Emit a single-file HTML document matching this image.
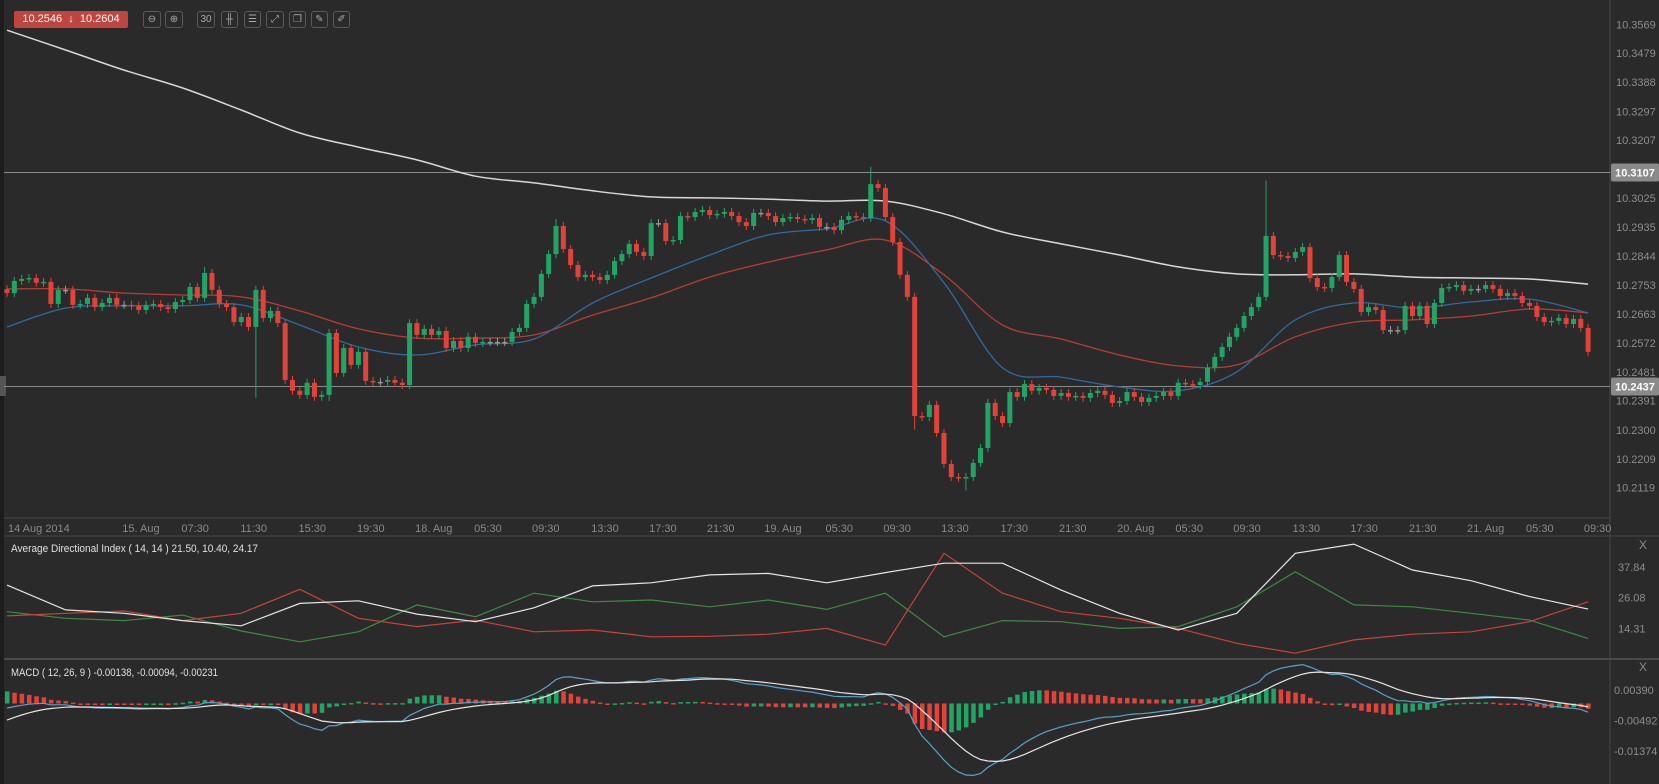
<!DOCTYPE html>
<html><head><meta charset="utf-8"><style>
html,body{margin:0;padding:0;background:#2a2a2a;overflow:hidden}
svg{display:block;font-family:"Liberation Sans",sans-serif}
.tb{position:absolute;top:11px;height:17px;border:1px solid #5a5a5a;border-radius:3px;box-sizing:border-box;color:#aaa;font:10px "Liberation Sans",sans-serif;text-align:center;line-height:15px}
</style></head><body>
<svg id="chart" width="1659" height="784" viewBox="0 0 1659 784" xmlns="http://www.w3.org/2000/svg">
<rect x="0" y="0" width="1659" height="784" fill="#2a2a2a"/>
<rect x="0" y="0" width="4" height="784" fill="#1c1c1c"/>
<rect x="0" y="376" width="6" height="20" fill="#555"/>
<g id="grid"></g>
<g id="main"></g>
<g id="adx"></g>
<g id="macd"></g>
<g id="axes"></g>
</svg>
<div style="position:absolute;left:14px;top:11px;width:114px;height:17px;background:#c0453e;border-radius:2px;color:#fff;font:11px 'Liberation Sans',sans-serif;line-height:17px;text-align:center">10.2546 &nbsp;↓&nbsp; 10.2604</div>
<div class="tb" style="left:143px;width:18px">⊖</div>
<div class="tb" style="left:165px;width:18px">⊕</div>
<div class="tb" style="left:197px;width:18px">30</div>
<div class="tb" style="left:221px;width:17px">╫</div>
<div class="tb" style="left:244px;width:17px">☰</div>
<div class="tb" style="left:266px;width:18px">⤢</div>
<div class="tb" style="left:289px;width:17px">❐</div>
<div class="tb" style="left:311px;width:17px">✎</div>
<div class="tb" style="left:333px;width:17px">✐</div>
<script>
// ---------- data ----------
const closes = [10.2728,10.2766,10.2772,10.2775,10.2760,10.2763,10.2694,10.2738,10.2738,10.2691,
10.2694,10.2713,10.2684,10.2697,10.2713,10.2691,10.2691,10.2688,10.2675,10.2691,
10.2694,10.2684,10.2678,10.2700,10.2706,10.2747,10.2713,10.2791,10.2738,10.2694,
10.2684,10.2637,10.2653,10.2622,10.2738,10.2650,10.2672,10.2634,10.2456,10.2422,
10.2409,10.2447,10.2403,10.2409,10.2603,10.2478,10.2556,10.2503,10.2544,10.2453,
10.2450,10.2450,10.2456,10.2447,10.2440,10.2634,10.2597,10.2616,10.2597,10.2609,
10.2556,10.2578,10.2556,10.2591,10.2572,10.2575,10.2575,10.2575,10.2575,10.2606,
10.2619,10.2694,10.2716,10.2788,10.2850,10.2938,10.2866,10.2816,10.2778,10.2785,
10.2778,10.2769,10.2785,10.2828,10.2850,10.2882,10.2857,10.2844,10.2947,10.2947,
10.2891,10.2894,10.2969,10.2966,10.2982,10.2988,10.2972,10.2976,10.2982,10.2969,
10.2950,10.2938,10.2979,10.2979,10.2969,10.2950,10.2963,10.2966,10.2960,10.2957,
10.2963,10.2935,10.2935,10.2925,10.2957,10.2969,10.2966,10.2963,10.3069,10.3057,
10.2966,10.2888,10.2785,10.2716,10.2343,10.2340,10.2378,10.2290,10.2193,10.2152,
10.2149,10.2152,10.2196,10.2243,10.2384,10.2343,10.2321,10.2418,10.2403,10.2443,
10.2422,10.2431,10.2425,10.2406,10.2415,10.2403,10.2406,10.2400,10.2415,10.2422,
10.2409,10.2384,10.2390,10.2418,10.2403,10.2387,10.2400,10.2406,10.2418,10.2406,
10.2447,10.2443,10.2440,10.2450,10.2494,10.2528,10.2559,10.2591,10.2619,10.2656,
10.2684,10.2716,10.2907,10.2847,10.2844,10.2838,10.2857,10.2872,10.2775,10.2747,
10.2744,10.2778,10.2847,10.2763,10.2741,10.2669,10.2684,10.2675,10.2612,10.2612,
10.2612,10.2688,10.2656,10.2688,10.2631,10.2697,10.2744,10.2747,10.2753,10.2735,
10.2741,10.2741,10.2753,10.2741,10.2719,10.2728,10.2719,10.2697,10.2688,10.2653,
10.2637,10.2641,10.2650,10.2631,10.2647,10.2619,10.2544];
const firstOpen = 10.2740;
const spikeHighs = {118:10.3123, 172:10.3080, 27:10.2810, 75:10.2960};
const spikeLows = {131:10.2110, 124:10.2300, 34:10.2400, 44:10.2390};
// moving averages sampled every 8 candles
const maIndex = [0,8,16,24,32,40,48,56,64,72,80,88,96,104,112,120,128,136,144,152,160,168,176,184,192,200,208,216];
const maWhite = [10.3551,10.3489,10.3426,10.3370,10.3301,10.3229,10.3185,10.3145,10.3094,10.3073,10.3048,10.3029,10.3026,10.3022,10.3016,10.3016,10.2976,10.2919,10.2882,10.2847,10.2810,10.2788,10.2785,10.2788,10.2778,10.2775,10.2772,10.2756];
const maBlue = [10.2622,10.2681,10.2688,10.2688,10.2691,10.2628,10.2559,10.2534,10.2566,10.2584,10.2697,10.2775,10.2847,10.2910,10.2929,10.2954,10.2760,10.2494,10.2465,10.2434,10.2422,10.2481,10.2644,10.2697,10.2681,10.2700,10.2709,10.2666];
const maRed = [10.2741,10.2741,10.2728,10.2722,10.2716,10.2672,10.2616,10.2587,10.2587,10.2597,10.2659,10.2713,10.2778,10.2825,10.2863,10.2894,10.2785,10.2628,10.2584,10.2534,10.2500,10.2503,10.2591,10.2637,10.2644,10.2656,10.2678,10.2666];
// ADX
const adxLine = [30.9,21.4,20.1,17.3,15.3,23.9,24.9,19.8,16.9,22.2,30.6,31.8,34.8,35.4,31.8,35.7,39.3,39.3,29.0,20.1,13.7,20.1,43.1,46.6,36.7,32.6,26.5,21.7];
const plusDI = [20.7,18.2,17.3,19.4,13.3,9.2,13.0,23.3,18.8,27.8,24.5,25.2,22.6,25.2,21.6,27.8,11.1,17.3,16.9,14.3,15.0,22.6,36.0,23.3,22.6,20.1,17.5,10.5];
const minusDI = [19.1,20.1,21.0,17.3,20.1,29.3,18.2,15.0,17.5,13.0,13.7,11.1,11.3,12.1,14.3,7.9,43.1,27.8,20.7,18.2,14.3,8.6,4.8,9.9,12.1,13.0,16.9,24.5];
// MACD settings / seed
const macdPeriods = [12,26,9];
const macdSeed = [-0.0013,-0.0048];
// axis labels
const priceTicks = [10.3569,10.3479,10.3388,10.3297,10.3207,10.3025,10.2935,10.2844,10.2753,10.2663,10.2572,10.2481,10.2391,10.2300,10.2209,10.2119];
const priceLines = [10.3107,10.2437];
const adxTicks = [37.84,26.08,14.31];
const macdTicks = [0.00390,-0.00492,-0.01374];
const timeLabels = ["15. Aug","07:30","11:30","15:30","19:30","18. Aug","05:30","09:30","13:30","17:30","21:30","19. Aug","05:30","09:30","13:30","17:30","21:30","20. Aug","05:30","09:30","13:30","17:30","21:30","21. Aug","05:30","09:30"];
const timeLabelIdx = [18.3,25.7,33.7,41.7,49.7,58.3,65.7,73.6,81.7,89.6,97.5,106,113.7,121.6,129.5,137.6,145.6,154.2,161.5,169.4,177.5,185.4,193.4,202,209.4,217.3];

// ---------- scales ----------
const NS='http://www.w3.org/2000/svg';
const X0=7, DX=7.32, RIGHT=1610;
const xi = i => X0 + i*DX;
const py = p => 172 + (10.3107 - p)*3194;
const ay = v => 567 + (37.84 - v)*2.61;
const my = v => 690 + (0.0039 - v)*3458;
function mk(tag, attrs, parent){const e=document.createElementNS(NS,tag);for(const k in attrs)e.setAttribute(k,attrs[k]);parent.appendChild(e);return e;}
function smooth(pts){
  let d='M'+pts[0][0].toFixed(1)+','+pts[0][1].toFixed(1);
  for(let k=0;k<pts.length-1;k++){
    const p0=pts[k-1]||pts[k], p1=pts[k], p2=pts[k+1], p3=pts[k+2]||p2;
    const c1=[p1[0]+(p2[0]-p0[0])/6, p1[1]+(p2[1]-p0[1])/6];
    const c2=[p2[0]-(p3[0]-p1[0])/6, p2[1]-(p3[1]-p1[1])/6];
    d+='C'+c1[0].toFixed(1)+','+c1[1].toFixed(1)+' '+c2[0].toFixed(1)+','+c2[1].toFixed(1)+' '+p2[0].toFixed(1)+','+p2[1].toFixed(1);
  }
  return d;
}
const gMain=document.getElementById('main'), gAdx=document.getElementById('adx'), gMacd=document.getElementById('macd'), gAx=document.getElementById('axes'), gGrid=document.getElementById('grid');

// panel frames
let l;
l=mk('line',{x1:4,x2:RIGHT,y1:518,y2:518,stroke:'#474747','stroke-width':1},gGrid);


l=mk('line',{x1:4,x2:1659,y1:536,y2:536,stroke:'#474747','stroke-width':1},gGrid);


l=mk('line',{x1:4,x2:1659,y1:659,y2:659,stroke:'#4a4a4a','stroke-width':2},gGrid);


l=mk('line',{x1:RIGHT,x2:RIGHT,y1:0,y2:784,stroke:'#474747','stroke-width':1},gGrid);



// horizontal price lines
priceLines.forEach((p,k)=>{
  const y=Math.round(py(p))+0.5;
  const ln=mk('line',{x1:4,x2:RIGHT,y1:y,y2:y,stroke:'#8a8a8a','stroke-width':1},gMain);
  
  
  const r=mk('rect',{x:RIGHT+1,y:y-9,width:48,height:18,rx:2,fill:'#8a8a8a'},gAx);
  
  
  const t=mk('text',{x:RIGHT+25,y:y+4,'text-anchor':'middle','font-size':11,'font-weight':'bold',fill:'#fff'},gAx);
  t.textContent=p.toFixed(4);
  
  
});

// price ticks
priceTicks.forEach(p=>{
  const t=mk('text',{x:RIGHT+6,y:py(p)+4,'font-size':11,fill:'#8d8d8d'},gAx);
  t.textContent=p.toFixed(4);
  
  
});

// time labels
let t0=mk('text',{x:8,y:532,'font-size':11,fill:'#8a8a8a'},gAx);
t0.textContent='14 Aug 2014';


timeLabels.forEach((s,k)=>{
  const t=mk('text',{x:xi(timeLabelIdx[k]),y:532,'font-size':11,fill:'#8a8a8a','text-anchor':'middle'},gAx);
  t.textContent=s;
  
  
});

// moving averages
function maPath(vals, color, name, w){
  const pts=vals.map((v,k)=>[xi(maIndex[k]),py(v)]);
  const p=mk('path',{d:smooth(pts),fill:'none',stroke:color,'stroke-width':w,'stroke-linejoin':'round'},gMain);
  
  
}
maPath(maWhite,'#d8d8d8','slow-moving-average',1.5);
maPath(maRed,'#b53d36','medium-moving-average',1.3);
maPath(maBlue,'#2f6b9c','fast-moving-average',1.3);

// candles
const GREEN='#22a564', RED='#e2423a';
closes.forEach((c,i)=>{
  const o = i? closes[i-1] : firstOpen;
  const col = c>o ? GREEN : (c<o ? RED : '#999');
  const top=Math.min(py(o),py(c)), bot=Math.max(py(o),py(c));
  const hi = spikeHighs[i]!==undefined ? py(spikeHighs[i]) : top-4;
  const lo = spikeLows[i]!==undefined ? py(spikeLows[i]) : bot+4;
  const x=xi(i);
  const w=mk('line',{x1:x,x2:x,y1:hi,y2:lo,stroke:col,'stroke-width':1},gMain);
  
  
  const b=mk('rect',{x:x-2.5,y:top,width:5,height:Math.max(1.5,bot-top),fill:col},gMain);
  
  
});

// ADX panel
let tt=mk('text',{x:11,y:552,'font-size':11,fill:'#e0e0e0',textLength:247,lengthAdjust:'spacingAndGlyphs'},gAdx);
tt.textContent='Average Directional Index ( 14, 14 ) 21.50, 10.40, 24.17';


function adxPath(vals,color,name){
  const d=vals.map((v,k)=>(k?'L':'M')+xi(maIndex[k]).toFixed(1)+','+ay(v).toFixed(1)).join('');
  const p=mk('path',{d:d,fill:'none',stroke:color,'stroke-width':1.2},gAdx);
  
  
}
adxPath(plusDI,'#3d8a45','adx-plus-di-line');
adxPath(minusDI,'#c8433a','adx-minus-di-line');
adxPath(adxLine,'#e6e6e6','adx-line');
adxTicks.forEach(v=>{
  const t=mk('text',{x:RIGHT+8,y:ay(v)+4,'font-size':11,fill:'#8d8d8d'},gAx);
  t.textContent=v.toFixed(2);
  
  
});
let cx=mk('text',{x:1643,y:549,'font-size':12,fill:'#8a8a8a','text-anchor':'middle'},gAx);
cx.textContent='X';



// MACD panel (computed from closes)
let mt=mk('text',{x:11,y:676,'font-size':11,fill:'#e0e0e0',textLength:207,lengthAdjust:'spacingAndGlyphs'},gMacd);
mt.textContent='MACD ( 12, 26, 9 ) -0.00138, -0.00094, -0.00231';


const k1=2/(macdPeriods[0]+1), k2=2/(macdPeriods[1]+1), k3=2/(macdPeriods[2]+1);
let e1=closes[0], e2=closes[0]-macdSeed[0], sig=macdSeed[1];
const macdV=[], sigV=[], histV=[];
closes.forEach((c,i)=>{
  if(i){e1=e1+k1*(c-e1); e2=e2+k2*(c-e2);}
  const m=e1-e2; if(i) sig=sig+k3*(m-sig);
  macdV.push(m); sigV.push(sig); histV.push(m-sig);
});
histV.forEach((h,i)=>{
  const up = i? h>=histV[i-1] : true;
  const y0=my(0), y1=my(h);
  const r=mk('rect',{x:xi(i)-2,y:Math.min(y0,y1),width:4.5,height:Math.max(1.5,Math.abs(y1-y0)),fill:up?GREEN:RED},gMacd);
  
  
});
function linePath(vals,color,name){
  const d=vals.map((v,k)=>(k?'L':'M')+xi(k).toFixed(1)+','+my(v).toFixed(1)).join('');
  const p=mk('path',{d:d,fill:'none',stroke:color,'stroke-width':1.2},gMacd);
  
  
}
linePath(macdV,'#5aa3c6','macd-line');
linePath(sigV,'#e6e6e6','macd-signal-line');
macdTicks.forEach(v=>{
  const t=mk('text',{x:RIGHT+4,y:my(v)+4,'font-size':11,fill:'#8d8d8d'},gAx);
  t.textContent=v.toFixed(5);
  
  
});
let cx2=mk('text',{x:1643,y:671,'font-size':12,fill:'#8a8a8a','text-anchor':'middle'},gAx);
cx2.textContent='X';


</script>
</body></html>
